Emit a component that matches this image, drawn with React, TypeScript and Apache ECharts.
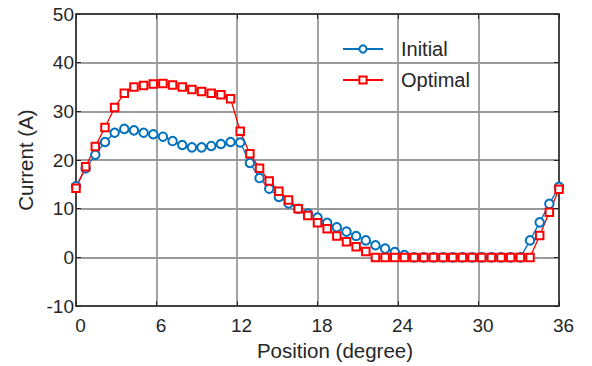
import React, { useEffect, useRef } from "react";
import * as echarts from "echarts";

const positions = [
  0, 0.72, 1.44, 2.16, 2.88, 3.6, 4.32, 5.04, 5.76, 6.48,
  7.2, 7.92, 8.64, 9.36, 10.08, 10.8, 11.52, 12.24, 12.96, 13.68,
  14.4, 15.12, 15.84, 16.56, 17.28, 18, 18.72, 19.44, 20.16, 20.88,
  21.6, 22.32, 23.04, 23.76, 24.48, 25.2, 25.92, 26.64, 27.36, 28.08,
  28.8, 29.52, 30.24, 30.96, 31.68, 32.4, 33.12, 33.84, 34.56, 35.28, 36,
];

const initial = [
  14.6, 18.3, 21.1, 23.7, 25.6, 26.4, 26.1, 25.6, 25.3, 24.8,
  23.9, 23.1, 22.6, 22.6, 22.9, 23.3, 23.7, 23.6, 19.4, 16.3,
  14.1, 12.4, 11.1, 10.0, 9.0, 8.2, 7.1, 6.2, 5.3, 4.4,
  3.5, 2.5, 1.8, 1.1, 0.5, 0, 0, 0, 0, 0,
  0, 0, 0, 0, 0, 0, 0, 3.5, 7.2, 11.0, 14.5,
];

const optimal = [
  14.2, 18.6, 22.8, 26.7, 30.8, 33.7, 35.0, 35.3, 35.6, 35.7,
  35.4, 35.0, 34.5, 34.1, 33.7, 33.4, 32.6, 25.9, 21.3, 18.3,
  15.7, 13.6, 11.8, 10.0, 8.6, 7.1, 5.9, 4.4, 3.2, 2.2,
  1.2, 0, 0, 0, 0, 0, 0, 0, 0, 0,
  0, 0, 0, 0, 0, 0, 0, 0, 4.5, 9.3, 14.0,
];

const xTicks = [0, 6, 12, 18, 24, 30, 36];
const yTicks = [-10, 0, 10, 20, 30, 40, 50];

export default function App() {
  const ref = useRef<HTMLDivElement>(null);
  useEffect(() => {
    if (!ref.current) return;
    const chart = echarts.init(ref.current, undefined, { renderer: "svg" });
    const font = "Liberation Sans, Arial, sans-serif";
    const axisColor = "#262626";
    const gridLine = { show: true, lineStyle: { color: "#9a9a9a", width: 1.8 } };
    chart.setOption({
      animation: false,
      backgroundColor: "#ffffff",
      textStyle: { fontFamily: font },
      grid: { left: 76, right: 33, top: 14, bottom: 58, containLabel: false },
      legend: {
        left: 337,
        top: 34,
        orient: "vertical",
        itemWidth: 40,
        itemHeight: 9,
        itemGap: 11,
        textStyle: {
          fontSize: 20,
          lineHeight: 20,
          color: axisColor,
          fontFamily: font,
          padding: [0, 0, 0, 13],
        },
        data: ["Initial", "Optimal"],
      },
      xAxis: [
        {
          type: "value",
          min: xTicks[0],
          max: xTicks[xTicks.length - 1],
          interval: 6,
          name: "Position (degree)",
          nameLocation: "middle",
          nameGap: 33,
          nameTextStyle: {
            fontSize: 20.5,
            color: axisColor,
            fontFamily: font,
            padding: [0, 0, 0, 35],
          },
          axisLine: { show: true, onZero: false, lineStyle: { color: axisColor, width: 1.5 } },
          axisTick: { show: true, inside: true, length: 5, lineStyle: { color: axisColor } },
          axisLabel: {
            fontSize: 19,
            color: axisColor,
            margin: 10,
            fontFamily: font,
            padding: [0, 0, 0, 9],
          },
          splitLine: gridLine,
        },
        {
          type: "value",
          position: "top",
          min: xTicks[0],
          max: xTicks[xTicks.length - 1],
          interval: 6,
          axisLine: { show: true, onZero: false, lineStyle: { color: axisColor, width: 1.5 } },
          axisTick: { show: true, inside: true, length: 5, lineStyle: { color: axisColor } },
          axisLabel: { show: false },
          splitLine: { show: false },
        },
      ],
      yAxis: [
        {
          type: "value",
          min: yTicks[0],
          max: yTicks[yTicks.length - 1],
          interval: 10,
          name: "Current (A)",
          nameLocation: "middle",
          nameGap: 40,
          nameTextStyle: { fontSize: 20.5, color: axisColor, fontFamily: font },
          axisLine: { show: true, onZero: false, lineStyle: { color: axisColor, width: 1.5 } },
          axisTick: { show: true, inside: true, length: 5, lineStyle: { color: axisColor } },
          axisLabel: { fontSize: 19, color: axisColor, margin: 2, fontFamily: font },
          splitLine: gridLine,
        },
        {
          type: "value",
          position: "right",
          min: yTicks[0],
          max: yTicks[yTicks.length - 1],
          interval: 10,
          axisLine: { show: true, onZero: false, lineStyle: { color: axisColor, width: 1.5 } },
          axisTick: { show: true, inside: true, length: 5, lineStyle: { color: axisColor } },
          axisLabel: { show: false },
          splitLine: { show: false },
        },
      ],
      series: [
        {
          name: "Initial",
          type: "line",
          data: positions.map((x, i) => [x, initial[i]]),
          symbol: "emptyCircle",
          symbolSize: 8.5,
          lineStyle: { color: "#0072BD", width: 1.3 },
          itemStyle: { color: "#0072BD", borderColor: "#0072BD", borderWidth: 1.3 },
        },
        {
          name: "Optimal",
          type: "line",
          data: positions.map((x, i) => [x, optimal[i]]),
          symbol: "emptyRect",
          symbolSize: 7.5,
          lineStyle: { color: "#FF0000", width: 1.3 },
          itemStyle: { color: "#FF0000", borderColor: "#FF0000", borderWidth: 1.3 },
        },
      ],
    });
    return () => chart.dispose();
  }, []);
  return <div ref={ref} style={{ width: 592, height: 366, position: "absolute", left: 0, top: 0 }} />;
}
